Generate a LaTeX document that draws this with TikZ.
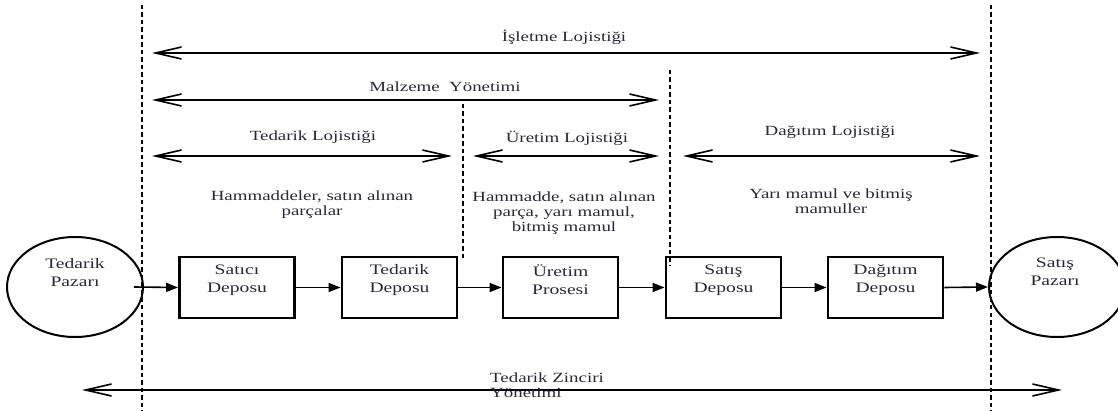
\documentclass[tikz,border=0pt]{standalone}
\usepackage{fontspec}
\setmainfont{Liberation Serif}[FakeStretch=1.35]
\usetikzlibrary{arrows.meta,shapes.geometric}
\definecolor{ink}{RGB}{40,40,55}
\begin{document}
\begin{tikzpicture}[x=1pt,y=-1pt,
  txt/.style={text=ink, font=\fontsize{14pt}{15pt}\selectfont, align=center, inner sep=0pt},
  boxtxt/.style={text=ink, font=\fontsize{14.5pt}{18pt}\selectfont, align=center, inner sep=0pt},
  depot/.style={draw, line width=2.8pt, minimum width=115pt, minimum height=61pt, inner sep=0pt},
  market/.style={draw, ellipse, line width=2pt, minimum width=136pt, minimum height=100pt, inner sep=0pt},
  bound/.style={line width=2.8pt, dash pattern=on 4.5pt off 3pt},
  span/.style={line width=1.6pt, {Straight Barb[length=26pt,width=12pt]}-{Straight Barb[length=26pt,width=12pt]}},
  flow/.style={line width=1.6pt, -{Triangle[length=12pt,width=9pt]}}
]
\useasboundingbox (0,0) rectangle (1118,411);

% boundaries between the areas
\coordinate (b1t) at (142,5);   \coordinate (b1b) at (142,411);
\coordinate (b2t) at (991,5);   \coordinate (b2b) at (991,411);
\coordinate (m1t) at (463,104); \coordinate (m1b) at (463,258);
\coordinate (m2t) at (670,70);  \coordinate (m2b) at (670,266);
\draw[bound] (b1t) -- (b1b);
\draw[bound] (b2t) -- (b2b);
\draw[bound] (m1t) -- (m1b);
\draw[bound] (m2t) -- (m2b);

% range arrows
\coordinate (a1l) at (152,53);  \coordinate (a1r) at (980,53);
\coordinate (a2l) at (152,100); \coordinate (a2r) at (659,100);
\coordinate (a3l) at (152,156); \coordinate (a3r) at (452,156);
\coordinate (a4l) at (473,156); \coordinate (a4r) at (659,156);
\coordinate (a5l) at (683,156); \coordinate (a5r) at (980,156);
\coordinate (a6l) at (82,390);  \coordinate (a6r) at (1062,390);
\draw[span] (a1l) -- (a1r);
\draw[span] (a2l) -- (a2r);
\draw[span] (a3l) -- (a3r);
\draw[span] (a4l) -- (a4r);
\draw[span] (a5l) -- (a5r);
\draw[span] (a6l) -- (a6r);

% range labels
\node[txt] (l1) at (564,37)  {İşletme Lojistiği};
\node[txt] (l2) at (445,87)  {Malzeme~ Yönetimi};
\node[txt] (l3) at (313,137) {Tedarik Lojistiği};
\node[txt] (l4) at (567,138) {Üretim Lojistiği};
\node[txt] (l5) at (830,132) {Dağıtım Lojistiği};
\node[txt, anchor=west, align=left] (l6) at (490,385) {Tedarik Zinciri\\Yönetimi};

% material descriptions
\node[txt] (d1) at (312,205) {Hammaddeler, satın alınan\\parçalar};
\node[txt] (d2) at (564,213) {Hammadde, satın alınan\\parça, yarı mamul,\\bitmiş mamul};
\node[txt] (d3) at (831,201) {Yarı mamul ve bitmiş\\mamuller};

% markets
\node[market] (tp) at (75,287) {};
\node[market] (sp) at (1057,287) {};
\node[boxtxt] (tpt) at (75,273) {Tedarik\\Pazarı};
\node[boxtxt] (spt) at (1055,272) {Satış\\Pazarı};

% depots and process
\node[depot] (s1) at (237,287.5) {};
\node[depot] (s2) at (399.5,287.5) {};
\node[depot] (s3) at (560.5,287.5) {};
\node[depot] (s4) at (723.5,287.5) {};
\node[depot] (s5) at (885.5,287.5) {};
\node[boxtxt] (s1t) at (237,280) {Satıcı\\Deposu};
\node[boxtxt] (s2t) at (399.5,280) {Tedarik\\Deposu};
\node[boxtxt] (s3t) at (560.5,280) {Üretim\\Prosesi};
\node[boxtxt] (s4t) at (723.5,280) {Satış\\Deposu};
\node[boxtxt] (s5t) at (885.5,280) {Dağıtım\\Deposu};

% material flow
\draw[flow] ([xshift=-10pt]tp.east) -- (s1.west);
\draw[flow] (s1.east) -- (s2.west);
\draw[flow] (s2.east) -- (s3.west);
\draw[flow] (s3.east) -- (s4.west);
\draw[flow] (s4.east) -- (s5.west);
\draw[flow] (s5.east) -- (sp.west);
\end{tikzpicture}
\end{document}
